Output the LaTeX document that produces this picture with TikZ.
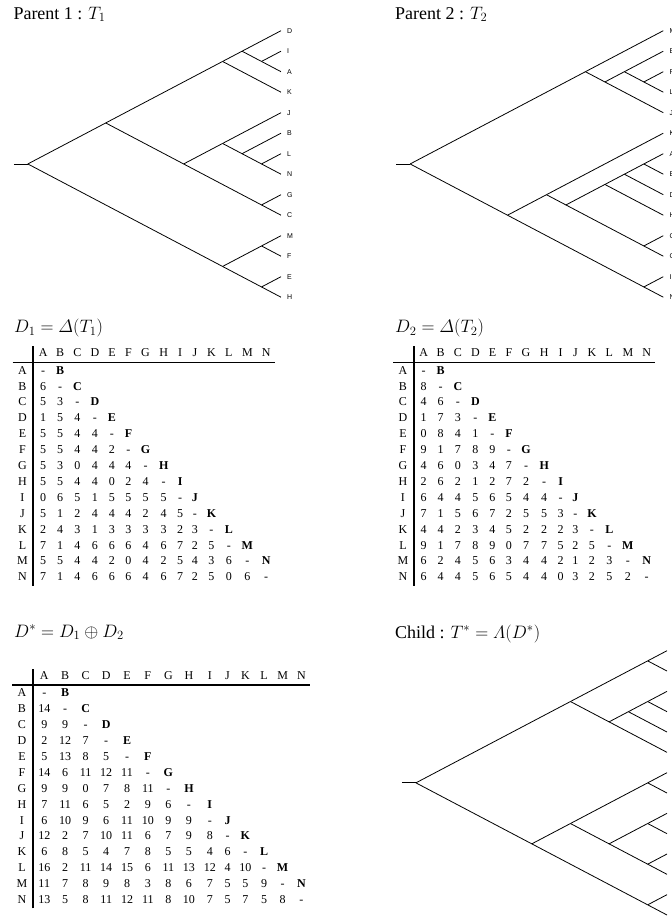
\RequirePackage{fix-cm}
\documentclass[tikz,border=0pt]{standalone}
\usepackage{amsmath}
\usepackage[no-math]{fontspec}
\setmainfont{Liberation Serif}
\newfontfamily\leaffont{Liberation Sans}
\usepackage{array}
\usetikzlibrary{calc}

\setlength{\tabcolsep}{4.4pt}
\setlength{\arrayrulewidth}{1.3pt}
% internal node of a slanted tree, from its top and bottom leaf
\newcommand{\clade}[3]{\path let \p1=(#2), \p2=(#3) in
  coordinate (#1) at ({\x1-0.95*((\y1)-(\y2))},{((\y1)+(\y2))/2});}
\newcommand{\dhead}{& A & B & C & D & E & F & G & H & I & J & K & L & M & N\\ \hline}

\begin{document}
\begin{tikzpicture}[
    x=1pt, y=-1pt,
    ttl/.style={anchor=base west, inner sep=0pt, font=\fontsize{18}{21.6}\selectfont},
    leaf/.style={anchor=west, inner xsep=6pt, inner ysep=1pt, font=\leaffont\fontsize{7}{8}\selectfont},
    tbl/.style={anchor=north west, inner sep=0pt, font=\fontsize{12}{15.9}\selectfont},
    branch/.style={line width=0.8pt}
]
\useasboundingbox (0,0) rectangle (672,919);

% titles
\node[ttl] (tP1) at (13.3,19) {Parent 1 : $T_1$};
\node[ttl] (tP2) at (395,19) {Parent 2 : $T_2$};
\node[ttl] (tD1) at (14,332.5) {$D_1 = \varDelta(T_1)$};
\node[ttl] (tD2) at (395,332.5) {$D_2 = \varDelta(T_2)$};
\node[ttl] (tDs) at (14,637) {$D^* = D_1 \oplus D_2$};
\node[ttl] (tCh) at (395,638) {Child : $T^* = \varLambda(D^*)$};

% parent 1
\foreach \n [count=\i] in {D,I,A,K,J,B,L,N,G,C,M,F,E,H}
  \node[leaf] (a\n) at (281,{30.7+20.5*(\i-1)}) {\n};
\clade{uR}{aD.west}{aH.west}
\clade{uDC}{aD.west}{aC.west}
\clade{uDK}{aD.west}{aK.west}
\clade{uDA}{aD.west}{aA.west}
\clade{uIA}{aI.west}{aA.west}
\clade{uJC}{aJ.west}{aC.west}
\clade{uJN}{aJ.west}{aN.west}
\clade{uBN}{aB.west}{aN.west}
\clade{uLN}{aL.west}{aN.west}
\clade{uGC}{aG.west}{aC.west}
\clade{uMH}{aM.west}{aH.west}
\clade{uMF}{aM.west}{aF.west}
\clade{uEH}{aE.west}{aH.west}
\path (uR) ++(-14,0) coordinate (uS);
\draw[branch] (uS) -- (uR);
\foreach \p/\q in {uR/uDC, uR/uMH, uDC/uDK, uDC/uJC, uDK/uDA, uDK/aK.west,
    uDA/aD.west, uDA/uIA, uIA/aI.west, uIA/aA.west, uJC/uJN, uJC/uGC,
    uJN/aJ.west, uJN/uBN, uBN/aB.west, uBN/uLN, uLN/aL.west, uLN/aN.west,
    uGC/aG.west, uGC/aC.west, uMH/uMF, uMH/uEH, uMF/aM.west, uMF/aF.west,
    uEH/aE.west, uEH/aH.west}
  \draw[branch] (\p) -- (\q);

% parent 2
\foreach \n [count=\i] in {M,B,F,L,J,K,A,E,D,H,C,G,I,N}
  \node[leaf] (b\n) at (663.3,{30.7+20.5*(\i-1)}) {\n};
\clade{vR}{bM.west}{bN.west}
\clade{vMJ}{bM.west}{bJ.west}
\clade{vBJ}{bB.west}{bJ.west}
\clade{vBL}{bB.west}{bL.west}
\clade{vFL}{bF.west}{bL.west}
\clade{vKN}{bK.west}{bN.west}
\clade{vKG}{bK.west}{bG.west}
\clade{vAG}{bA.west}{bG.west}
\clade{vAH}{bA.west}{bH.west}
\clade{vAD}{bA.west}{bD.west}
\clade{vAE}{bA.west}{bE.west}
\clade{vCG}{bC.west}{bG.west}
\clade{vIN}{bI.west}{bN.west}
\path (vR) ++(-14,0) coordinate (vS);
\draw[branch] (vS) -- (vR);
\foreach \p/\q in {vR/vMJ, vR/vKN, vMJ/bM.west, vMJ/vBJ, vBJ/vBL, vBJ/bJ.west,
    vBL/bB.west, vBL/vFL, vFL/bF.west, vFL/bL.west, vKN/vKG, vKN/vIN,
    vKG/bK.west, vKG/vAG, vAG/vAH, vAG/vCG, vAH/vAD, vAH/bH.west,
    vAD/vAE, vAD/bD.west, vAE/bA.west, vAE/bE.west, vCG/bC.west, vCG/bG.west,
    vIN/bI.west, vIN/bN.west}
  \draw[branch] (\p) -- (\q);

% child
\foreach \i in {1,...,14}
  \coordinate (c\i) at (667,{650.7+20.33*(\i-1)});
\clade{wR}{c1}{c14}
\clade{wA}{c1}{c6}
\clade{wAa}{c1}{c2}
\clade{wAb}{c3}{c6}
\clade{wAc}{c3}{c5}
\clade{wAd}{c3}{c4}
\clade{wB}{c7}{c14}
\clade{wBa}{c7}{c12}
\clade{wBb}{c7}{c8}
\clade{wBc}{c9}{c12}
\clade{wBd}{c9}{c10}
\clade{wBe}{c11}{c12}
\clade{wBf}{c13}{c14}
\path (wR) ++(-14,0) coordinate (wS);
\draw[branch] (wS) -- (wR);
\foreach \p/\q in {wR/wA, wR/wB, wA/wAa, wA/wAb, wAa/c1, wAa/c2, wAb/wAc, wAb/c6,
    wAc/wAd, wAc/c5, wAd/c3, wAd/c4, wB/wBa, wB/wBf, wBa/wBb, wBa/wBc,
    wBb/c7, wBb/c8, wBc/wBd, wBc/wBe, wBd/c9, wBd/c10, wBe/c11, wBe/c12,
    wBf/c13, wBf/c14}
  \draw[branch] (\p) -- (\q);

% distance matrices
\node[tbl] (mD1) at (12.5,345.6) {\begin{tabular}{c!{\vrule width 2.2pt}*{14}{c}}
\dhead
A & - & \textbf{B}\\
B & 6 & - & \textbf{C}\\
C & 5 & 3 & - & \textbf{D}\\
D & 1 & 5 & 4 & - & \textbf{E}\\
E & 5 & 5 & 4 & 4 & - & \textbf{F}\\
F & 5 & 5 & 4 & 4 & 2 & - & \textbf{G}\\
G & 5 & 3 & 0 & 4 & 4 & 4 & - & \textbf{H}\\
H & 5 & 5 & 4 & 4 & 0 & 2 & 4 & - & \textbf{I}\\
I & 0 & 6 & 5 & 1 & 5 & 5 & 5 & 5 & - & \textbf{J}\\
J & 5 & 1 & 2 & 4 & 4 & 4 & 2 & 4 & 5 & - & \textbf{K}\\
K & 2 & 4 & 3 & 1 & 3 & 3 & 3 & 3 & 2 & 3 & - & \textbf{L}\\
L & 7 & 1 & 4 & 6 & 6 & 6 & 4 & 6 & 7 & 2 & 5 & - & \textbf{M}\\
M & 5 & 5 & 4 & 4 & 2 & 0 & 4 & 2 & 5 & 4 & 3 & 6 & - & \textbf{N}\\
N & 7 & 1 & 4 & 6 & 6 & 6 & 4 & 6 & 7 & 2 & 5 & 0 & 6 & -\\
\end{tabular}};

\node[tbl] (mD2) at (393,345.6) {\begin{tabular}{c!{\vrule width 2.2pt}*{14}{c}}
\dhead
A & - & \textbf{B}\\
B & 8 & - & \textbf{C}\\
C & 4 & 6 & - & \textbf{D}\\
D & 1 & 7 & 3 & - & \textbf{E}\\
E & 0 & 8 & 4 & 1 & - & \textbf{F}\\
F & 9 & 1 & 7 & 8 & 9 & - & \textbf{G}\\
G & 4 & 6 & 0 & 3 & 4 & 7 & - & \textbf{H}\\
H & 2 & 6 & 2 & 1 & 2 & 7 & 2 & - & \textbf{I}\\
I & 6 & 4 & 4 & 5 & 6 & 5 & 4 & 4 & - & \textbf{J}\\
J & 7 & 1 & 5 & 6 & 7 & 2 & 5 & 5 & 3 & - & \textbf{K}\\
K & 4 & 4 & 2 & 3 & 4 & 5 & 2 & 2 & 2 & 3 & - & \textbf{L}\\
L & 9 & 1 & 7 & 8 & 9 & 0 & 7 & 7 & 5 & 2 & 5 & - & \textbf{M}\\
M & 6 & 2 & 4 & 5 & 6 & 3 & 4 & 4 & 2 & 1 & 2 & 3 & - & \textbf{N}\\
N & 6 & 4 & 4 & 5 & 6 & 5 & 4 & 4 & 0 & 3 & 2 & 5 & 2 & -\\
\end{tabular}};

\node[tbl] (mDs) at (12,668.3) {\begin{tabular}{c!{\vrule width 2.2pt}*{14}{c}}
\dhead
A & - & \textbf{B}\\
B & 14 & - & \textbf{C}\\
C & 9 & 9 & - & \textbf{D}\\
D & 2 & 12 & 7 & - & \textbf{E}\\
E & 5 & 13 & 8 & 5 & - & \textbf{F}\\
F & 14 & 6 & 11 & 12 & 11 & - & \textbf{G}\\
G & 9 & 9 & 0 & 7 & 8 & 11 & - & \textbf{H}\\
H & 7 & 11 & 6 & 5 & 2 & 9 & 6 & - & \textbf{I}\\
I & 6 & 10 & 9 & 6 & 11 & 10 & 9 & 9 & - & \textbf{J}\\
J & 12 & 2 & 7 & 10 & 11 & 6 & 7 & 9 & 8 & - & \textbf{K}\\
K & 6 & 8 & 5 & 4 & 7 & 8 & 5 & 5 & 4 & 6 & - & \textbf{L}\\
L & 16 & 2 & 11 & 14 & 15 & 6 & 11 & 13 & 12 & 4 & 10 & - & \textbf{M}\\
M & 11 & 7 & 8 & 9 & 8 & 3 & 8 & 6 & 7 & 5 & 5 & 9 & - & \textbf{N}\\
N & 13 & 5 & 8 & 11 & 12 & 11 & 8 & 10 & 7 & 5 & 7 & 5 & 8 & -\\
\end{tabular}};
\end{tikzpicture}
\end{document}
